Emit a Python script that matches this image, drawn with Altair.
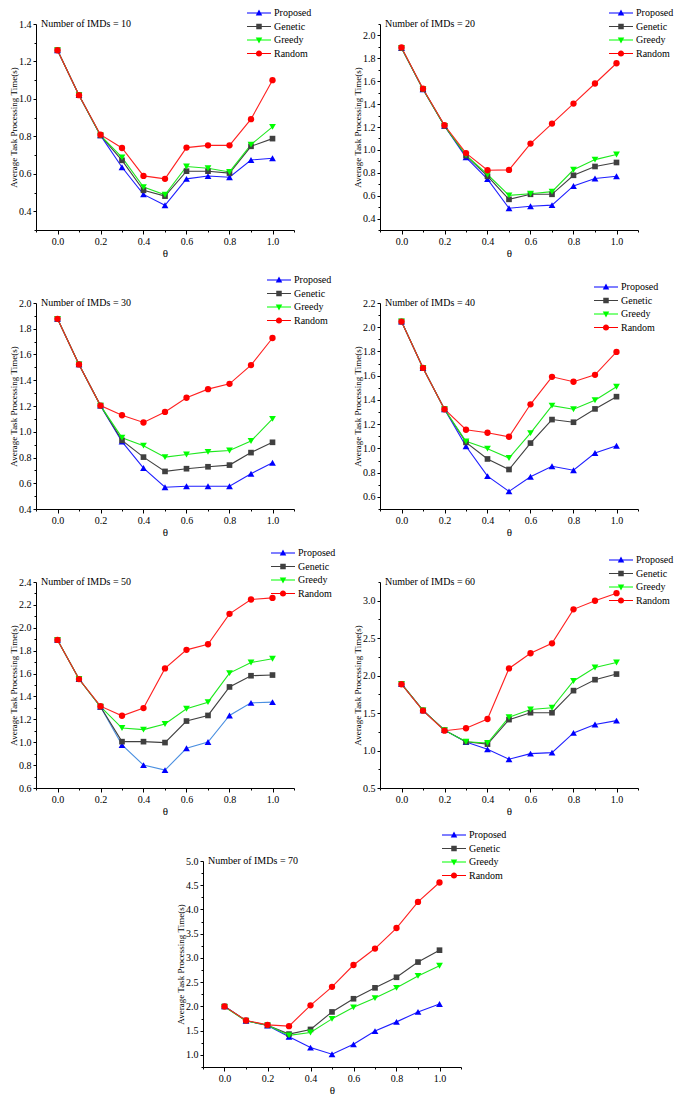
import altair as alt
import pandas as pd

theta = [0.0, 0.1, 0.2, 0.3, 0.4, 0.5, 0.6, 0.7, 0.8, 0.9, 1.0]
methods = ["Proposed", "Genetic", "Greedy", "Random"]

# ---- values (one list per series) ----
imd10_proposed = [1.26, 1.02, 0.805, 0.635, 0.490, 0.432, 0.573, 0.588, 0.582, 0.674, 0.683]
imd10_genetic = [1.26, 1.02, 0.805, 0.672, 0.512, 0.481, 0.614, 0.614, 0.604, 0.747, 0.788]
imd10_greedy = [1.26, 1.02, 0.805, 0.688, 0.529, 0.488, 0.639, 0.630, 0.610, 0.756, 0.851]
imd10_random = [1.26, 1.02, 0.809, 0.738, 0.589, 0.573, 0.740, 0.752, 0.752, 0.892, 1.100]

imd20_proposed = [1.89, 1.53, 1.21, 0.935, 0.745, 0.490, 0.508, 0.517, 0.685, 0.750, 0.770]
imd20_genetic = [1.89, 1.53, 1.21, 0.950, 0.770, 0.568, 0.612, 0.612, 0.778, 0.855, 0.890]
imd20_greedy = [1.89, 1.53, 1.21, 0.955, 0.785, 0.603, 0.617, 0.635, 0.826, 0.915, 0.960]
imd20_random = [1.895, 1.535, 1.215, 0.972, 0.822, 0.825, 1.055, 1.230, 1.405, 1.580, 1.757]

imd30_proposed = [1.877, 1.523, 1.203, 0.923, 0.718, 0.569, 0.577, 0.577, 0.577, 0.674, 0.759]
imd30_genetic = [1.877, 1.523, 1.203, 0.933, 0.803, 0.692, 0.713, 0.728, 0.741, 0.838, 0.918]
imd30_greedy = [1.877, 1.523, 1.203, 0.954, 0.892, 0.803, 0.823, 0.844, 0.854, 0.928, 1.100]
imd30_random = [1.877, 1.523, 1.203, 1.128, 1.072, 1.154, 1.264, 1.331, 1.372, 1.518, 1.728]

imd40_proposed = [2.047, 1.664, 1.323, 1.018, 0.771, 0.645, 0.766, 0.853, 0.820, 0.962, 1.022]
imd40_genetic = [2.047, 1.664, 1.323, 1.050, 0.913, 0.826, 1.044, 1.238, 1.216, 1.326, 1.427]
imd40_greedy = [2.047, 1.664, 1.323, 1.058, 0.998, 0.921, 1.126, 1.353, 1.323, 1.397, 1.509]
imd40_random = [2.047, 1.664, 1.323, 1.154, 1.129, 1.096, 1.364, 1.591, 1.550, 1.607, 1.796]

imd50_proposed = [1.894, 1.552, 1.310, 0.976, 0.800, 0.756, 0.947, 1.002, 1.234, 1.344, 1.350]
imd50_genetic = [1.894, 1.552, 1.310, 1.005, 1.005, 0.997, 1.185, 1.234, 1.483, 1.581, 1.587]
imd50_greedy = [1.894, 1.552, 1.310, 1.124, 1.110, 1.159, 1.292, 1.350, 1.604, 1.697, 1.729]
imd50_random = [1.894, 1.552, 1.315, 1.231, 1.298, 1.645, 1.807, 1.856, 2.122, 2.247, 2.261]

imd60_proposed = [1.889, 1.536, 1.272, 1.113, 1.016, 0.884, 0.959, 0.972, 1.236, 1.347, 1.399]
imd60_genetic = [1.889, 1.536, 1.272, 1.117, 1.086, 1.413, 1.505, 1.505, 1.800, 1.946, 2.021]
imd60_greedy = [1.889, 1.536, 1.272, 1.117, 1.100, 1.444, 1.549, 1.571, 1.929, 2.109, 2.175]
imd60_random = [1.885, 1.532, 1.265, 1.298, 1.421, 2.096, 2.299, 2.431, 2.885, 3.000, 3.101]

imd70_proposed = [2.002, 1.702, 1.606, 1.375, 1.150, 1.014, 1.218, 1.491, 1.681, 1.886, 2.049]
imd70_genetic = [2.000, 1.710, 1.610, 1.429, 1.525, 1.886, 2.158, 2.383, 2.601, 2.915, 3.160]
imd70_greedy = [1.990, 1.700, 1.610, 1.402, 1.463, 1.743, 1.981, 2.172, 2.383, 2.629, 2.840]
imd70_random = [2.000, 1.710, 1.620, 1.593, 2.022, 2.404, 2.854, 3.194, 3.617, 4.155, 4.557]

# ---- tick values ----
x_ticks = [-0.1, 0.0, 0.1, 0.2, 0.3, 0.4, 0.5, 0.6, 0.7, 0.8, 0.9, 1.0, 1.1]
y_ticks_10 = [0.3, 0.4, 0.5, 0.6, 0.7, 0.8, 0.9, 1.0, 1.1, 1.2, 1.3, 1.4]
y_ticks_20 = [0.3, 0.4, 0.5, 0.6, 0.7, 0.8, 0.9, 1.0, 1.1, 1.2, 1.3, 1.4, 1.5, 1.6, 1.7, 1.8, 1.9, 2.0, 2.1]
y_ticks_30 = [0.4, 0.5, 0.6, 0.7, 0.8, 0.9, 1.0, 1.1, 1.2, 1.3, 1.4, 1.5, 1.6, 1.7, 1.8, 1.9, 2.0]
y_ticks_40 = [0.5, 0.6, 0.7, 0.8, 0.9, 1.0, 1.1, 1.2, 1.3, 1.4, 1.5, 1.6, 1.7, 1.8, 1.9, 2.0, 2.1, 2.2]
y_ticks_50 = [0.6, 0.7, 0.8, 0.9, 1.0, 1.1, 1.2, 1.3, 1.4, 1.5, 1.6, 1.7, 1.8, 1.9, 2.0, 2.1, 2.2, 2.3, 2.4]
y_ticks_60 = [0.5, 0.75, 1.0, 1.25, 1.5, 1.75, 2.0, 2.25, 2.5, 2.75, 3.0, 3.25]
y_ticks_70 = [0.75, 1.0, 1.25, 1.5, 1.75, 2.0, 2.25, 2.5, 2.75, 3.0, 3.25, 3.5, 3.75, 4.0, 4.25, 4.5, 4.75, 5.0]

# ---- styles ----
marker_colors = ["#0000ff", "#404040", "#00ff00", "#ff0000"]
line_colors = ["#1f1fff", "#404040", "#1fe81f", "#ff2020"]
line_colors_50 = ["#4a8fe0", "#404040", "#1fe81f", "#ff2020"]
marker_shapes = ["triangle-up", "square", "triangle-down", "circle"]
marker_sizes = [46, 32, 46, 40]
legend_paths = [
    "M-2.4,-0.1H2.4V0.1H-2.4ZM0,-0.7L0.65,0.5L-0.65,0.5Z",
    "M-2.4,-0.1H2.4V0.1H-2.4ZM-0.55,-0.55H0.55V0.55H-0.55Z",
    "M-2.4,-0.1H2.4V0.1H-2.4ZM0,0.7L-0.65,-0.5L0.65,-0.5Z",
    "M-2.4,-0.1H2.4V0.1H-2.4ZM0.62,0A0.62,0.62,0,1,1,-0.62,0A0.62,0.62,0,1,1,0.62,0Z",
]

FONT = "Liberation Serif"
W, H = 258, 206

TEST_FIFTH = "abs(datum.value * 5 - round(datum.value * 5)) < 0.001"
TEST_HALF = "abs(datum.value * 2 - round(datum.value * 2)) < 0.001"


def panel(n, series, ydom, yticks, major_test, lx, ly, lcolors, shift=0):
    rows = []
    for m in methods:
        for t, v in zip(theta, series[m]):
            rows.append({"theta": t, "value": v, "method": m})
    df = pd.DataFrame(rows)

    xaxis = alt.Axis(
        values=x_ticks, title="θ",
        labelExpr=f"({TEST_FIFTH}) ? format(datum.value, '.1f') : ''",
        tickSize={"condition": {"test": TEST_FIFTH, "value": 4}, "value": 2},
    )
    yaxis_kw = dict(
        values=yticks, title="Average Task Processing Time(s)",
        labelExpr=f"({major_test}) ? format(datum.value, '.1f') : ''",
        tickSize={"condition": {"test": major_test, "value": 3}, "value": 2},
    )
    xscale_kw = dict(domain=[-0.1, 1.1], nice=False, zero=False)
    if shift:
        yaxis_kw["offset"] = -shift
        xscale_kw["range"] = [shift, shift + W]
    X = alt.X("theta:Q", scale=alt.Scale(**xscale_kw), axis=xaxis)
    Y = alt.Y("value:Q", scale=alt.Scale(domain=ydom, nice=False, zero=False),
              axis=alt.Axis(**yaxis_kw))

    base = alt.Chart(df)
    layers = []
    for m, c in zip(methods, lcolors):
        layers.append(
            base.transform_filter(alt.datum.method == m)
            .mark_line(strokeWidth=1.1, color=c)
            .encode(x=X, y=Y)
        )
    for m, c, s, sz in zip(methods, marker_colors, marker_shapes, marker_sizes):
        layers.append(
            base.transform_filter(alt.datum.method == m)
            .mark_point(filled=True, opacity=1, shape=s, size=sz, color=c)
            .encode(x=X, y=Y)
        )
    leg = alt.Legend(
        title=None, orient="none", legendX=lx + shift, legendY=ly,
        labelFont=FONT, labelFontSize=10, labelColor="black",
        symbolSize=100, symbolOpacity=1, symbolStrokeWidth=0,
        rowPadding=3.5, labelOffset=10, padding=0,
    )
    layers.append(base.mark_point(filled=True, opacity=0, size=100).encode(
        color=alt.Color("method:N", scale=alt.Scale(domain=methods, range=marker_colors), legend=leg),
        shape=alt.Shape("method:N", scale=alt.Scale(domain=methods, range=legend_paths), legend=leg),
    ))
    ann_df = pd.DataFrame({"theta": [-0.077], "value": [ydom[1]], "label": [f"Number of IMDs = {n}"]})
    layers.append(alt.Chart(ann_df).mark_text(
        align="left", baseline="middle", font=FONT, fontSize=10, color="black"
    ).encode(x=X, y=Y, text="label:N"))
    return alt.layer(*layers).properties(width=W, height=H)


def s(p, g, gr, r):
    return {"Proposed": p, "Genetic": g, "Greedy": gr, "Random": r}


p1 = panel(10, s(imd10_proposed, imd10_genetic, imd10_greedy, imd10_random), [0.3, 1.4], y_ticks_10, TEST_FIFTH, 218, -16, line_colors)
p2 = panel(20, s(imd20_proposed, imd20_genetic, imd20_greedy, imd20_random), [0.3, 2.1], y_ticks_20, TEST_FIFTH, 236, -16, line_colors)
p3 = panel(30, s(imd30_proposed, imd30_genetic, imd30_greedy, imd30_random), [0.4, 2.0], y_ticks_30, TEST_FIFTH, 238, -28, line_colors)
p4 = panel(40, s(imd40_proposed, imd40_genetic, imd40_greedy, imd40_random), [0.5, 2.2], y_ticks_40, TEST_FIFTH, 221, -21, line_colors)
p5 = panel(50, s(imd50_proposed, imd50_genetic, imd50_greedy, imd50_random), [0.6, 2.4], y_ticks_50, TEST_FIFTH, 242, -34, line_colors_50)
p6 = panel(60, s(imd60_proposed, imd60_genetic, imd60_greedy, imd60_random), [0.5, 3.25], y_ticks_60, TEST_HALF, 236, -27, line_colors)
p7 = panel(70, s(imd70_proposed, imd70_genetic, imd70_greedy, imd70_random), [0.75, 5.0], y_ticks_70, TEST_HALF, 246, -31, line_colors, shift=167)

chart = (
    alt.concat(
        p1, p2, p3, p4, p5, p6, p7,
        columns=2,
        spacing={"row": 73, "column": 86},
        bounds="flush",
    )
    .resolve_scale(x="independent", y="independent", color="independent", shape="independent")
    .resolve_legend(color="independent", shape="independent")
    .properties(padding={"left": 1, "top": 0, "right": 0, "bottom": 0})
    .configure_view(stroke=None)
    .configure_axis(
        grid=False, domainColor="black", tickColor="black", labelColor="black",
        titleColor="black", labelFont=FONT, labelFontSize=10, titleFont=FONT,
        titleFontWeight="normal", domainWidth=1, tickWidth=1, labelFlush=False,
        labelOverlap=False,
    )
    .configure_axisX(titleFontSize=11, labelPadding=2, titlePadding=1)
    .configure_axisY(titleFontSize=9, labelPadding=2, titlePadding=1, minExtent=17, maxExtent=17)
)

chart.save("out.html", embed_options={"renderer": "svg", "actions": False})
